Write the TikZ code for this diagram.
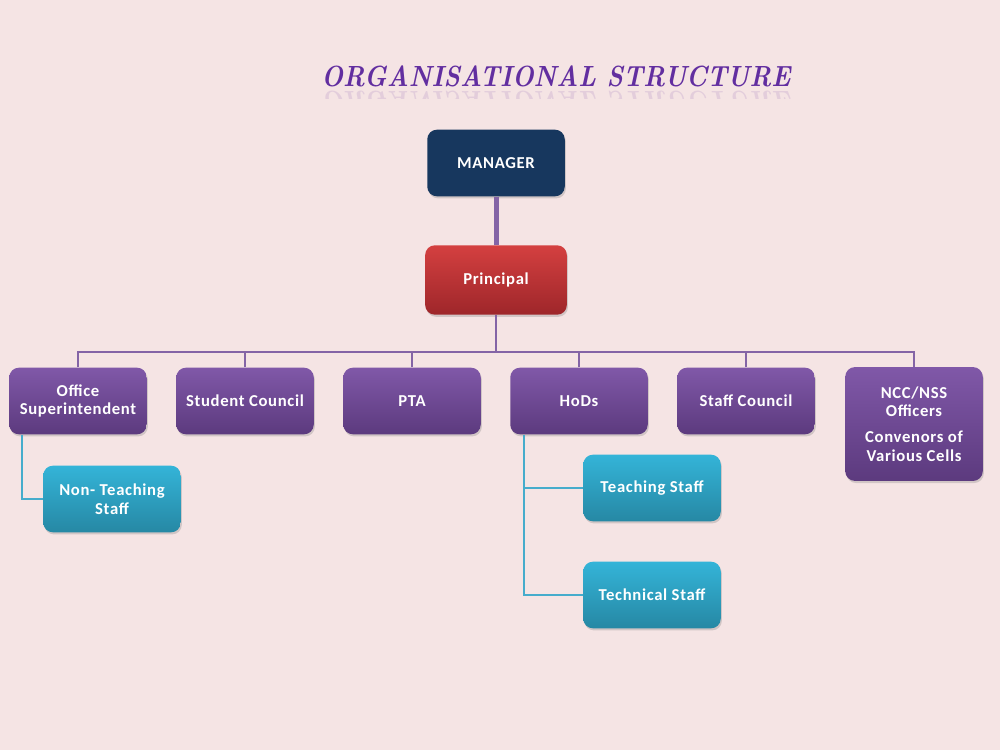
\documentclass[tikz,border=0pt]{standalone}
\usepackage{fontspec}
\newfontfamily\boxfont[LetterSpace=4]{Carlito}
\usetikzlibrary{shadows}

\definecolor{bgpink}{RGB}{245,228,228}
\definecolor{navy}{RGB}{23,55,94}
\definecolor{redtop}{RGB}{212,64,64}
\definecolor{redbot}{RGB}{158,38,42}
\definecolor{purtop}{RGB}{128,88,168}
\definecolor{purbot}{RGB}{92,58,126}
\definecolor{cyantop}{RGB}{52,180,216}
\definecolor{cyanbot}{RGB}{38,136,164}
\definecolor{linepur}{RGB}{132,100,166}
\definecolor{linecyan}{RGB}{70,172,204}
\definecolor{titlepur}{RGB}{98,46,160}

\tikzset{
  box/.style={rectangle, rounded corners=7pt, minimum width=99pt, minimum height=48pt,
    align=center, text=white, font=\boxfont\bfseries\fontsize{12}{13.5}\selectfont,
    drop shadow={opacity=0.3, shadow xshift=0.8pt, shadow yshift=-1.5pt}},
  topbox/.style={box, fill=navy},
  redbox/.style={box, top color=redtop, bottom color=redbot},
  purbox/.style={box, top color=purtop, bottom color=purbot},
  cyanbox/.style={box, top color=cyantop, bottom color=cyanbot},
  pline/.style={draw=linepur, line width=1.3pt},
  cline/.style={draw=linecyan, line width=1.3pt},
  titletext/.style={text=titlepur, xscale=0.87, transform shape,
    font=\bfseries\itshape\fontsize{21}{25}\selectfont},
}

\begin{document}
\begin{tikzpicture}[x=0.72pt, y=-0.72pt]
  \fill[bgpink] (0,0) rectangle (1000,750);
  \useasboundingbox (0,0) rectangle (1000,750);
  % Title, with a faint reflection under it
  \node[titletext] (title) at (556,76) {ORGANISATIONAL STRUCTURE};
  \begin{scope}
    \clip (300,89) rectangle (820,99);
    \node[titletext, opacity=0.12, yscale=-1] (titlerefl) at (556,102) {ORGANISATIONAL STRUCTURE};
  \end{scope}
  % Top of the tree
  \node[topbox] (mgr) at (496,163) {MANAGER};
  \node[redbox, minimum width=102pt, minimum height=50pt] (prin) at (496,280) {Principal};
  % Second row
  \node[purbox] (off) at (78,401) {Office\\Superintendent};
  \node[purbox] (stc) at (245,401) {Student Council};
  \node[purbox] (pta) at (412,401) {PTA};
  \node[purbox] (hod) at (579,401) {HoDs};
  \node[purbox] (sfc) at (746,401) {Staff Council};
  \node[purbox, minimum height=82pt] (ncc) at (914,424) {NCC/NSS\\Officers\\[5pt]Convenors of\\Various Cells};
  % Third row
  \node[cyanbox] (nts) at (112,499) {Non- Teaching\\Staff};
  \node[cyanbox] (tch) at (652,488) {Teaching Staff};
  \node[cyanbox] (tec) at (652,595) {Technical Staff};
  % Connectors
  \coordinate (bus) at (496,352);
  \coordinate (offdrop) at (22,435);
  \coordinate (hoddrop) at (524,435);
  \draw[draw=linepur, line width=3.6pt] (mgr) -- (prin);
  \draw[pline] (prin.south) -- (bus);
  \foreach \n in {off,stc,pta,hod,sfc,ncc}
    \draw[pline] (\n.north) |- (bus);
  \draw[cline] (offdrop) |- (nts.west);
  \draw[cline] (hoddrop) |- (tch.west);
  \draw[cline] (hoddrop) |- (tec.west);
\end{tikzpicture}
\end{document}
